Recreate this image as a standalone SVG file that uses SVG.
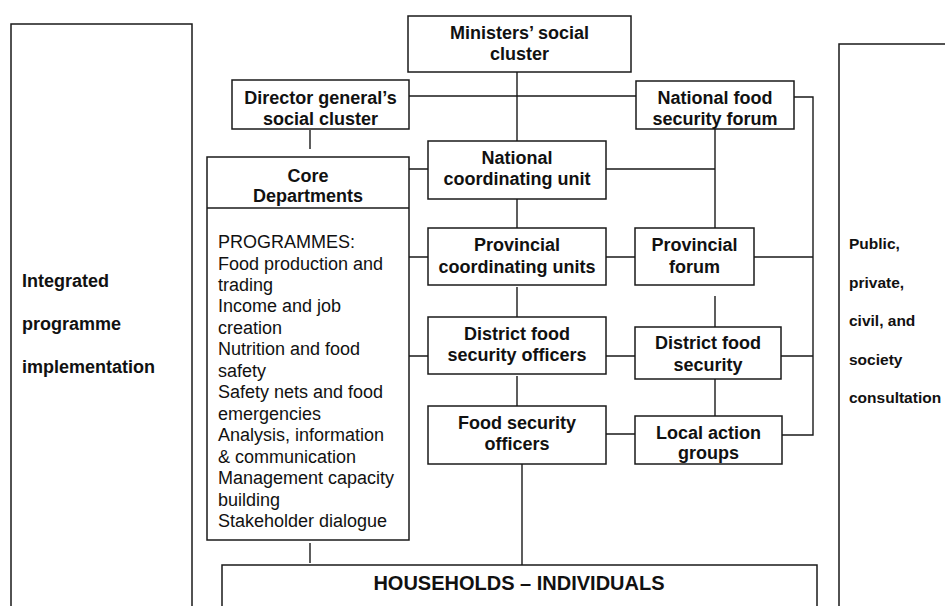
<svg xmlns="http://www.w3.org/2000/svg" width="945" height="606" viewBox="0 0 945 606">
<style>
.box{fill:#fff;stroke:#1a1a1a;stroke-width:1.5}
.ln{stroke:#1a1a1a;stroke-width:1.4;fill:none}
.b{font-family:"Liberation Sans",Arial,sans-serif;font-weight:bold;font-size:18px;fill:#111;text-anchor:middle}
.side{font-family:"Liberation Sans",Arial,sans-serif;font-weight:bold;font-size:18px;fill:#111}
.sideR{font-family:"Liberation Sans",Arial,sans-serif;font-weight:bold;font-size:15.5px;fill:#111}
.p{font-family:"Liberation Sans",Arial,sans-serif;font-size:18px;fill:#111}
</style>
<rect width="945" height="606" fill="#fff"/>
<g id="connectors">
<path class="ln" d="M517 72V141M409 96H636M794 97H813V435H782M310 130V149M409 169H428M606 169H715M715 129V228M517 199V228M409 257H428M606 257H635M754 257H813M517 287V317M715 296V327M409 356H428M606 356H635M781 356H813M517 376V406M715 379V416M606 434H635M522 464V565M310 543V563"/>
</g>
<g id="integrated-programme-implementation">
<rect class="box" x="11" y="24" width="181" height="620"/>
<text class="side" x="22" y="287">Integrated</text>
<text class="side" x="22" y="330">programme</text>
<text class="side" x="22" y="373">implementation</text>
</g>
<g id="consultation">
<rect class="box" x="839" y="44" width="160" height="620"/>
<text class="sideR" x="849" y="249">Public,</text>
<text class="sideR" x="849" y="287.5">private,</text>
<text class="sideR" x="849" y="326">civil, and</text>
<text class="sideR" x="849" y="364.5">society</text>
<text class="sideR" x="849" y="403">consultation</text>
</g>
<g id="ministers">
<rect class="box" x="408" y="16" width="223" height="56"/>
<text class="b" x="519.5" y="39">Ministers’ social</text>
<text class="b" x="519.5" y="60">cluster</text>
</g>
<g id="director-general">
<rect class="box" x="232" y="80" width="177" height="49"/>
<text class="b" x="320.5" y="104">Director general’s</text>
<text class="b" x="320.5" y="125">social cluster</text>
</g>
<g id="national-forum">
<rect class="box" x="636" y="81" width="158" height="48"/>
<text class="b" x="715" y="104">National food</text>
<text class="b" x="715" y="125">security forum</text>
</g>
<g id="core-departments">
<rect class="box" x="207" y="157" width="202" height="383"/>
<line class="ln" x1="207" y1="208" x2="409" y2="208"/>
<text class="b" x="308" y="182">Core</text>
<text class="b" x="308" y="202">Departments</text>
<text class="p" x="218" y="248">PROGRAMMES:</text>
<text class="p" x="218" y="269.5">Food production and</text>
<text class="p" x="218" y="291">trading</text>
<text class="p" x="218" y="312.4">Income and job</text>
<text class="p" x="218" y="333.8">creation</text>
<text class="p" x="218" y="355.3">Nutrition and food</text>
<text class="p" x="218" y="376.8">safety</text>
<text class="p" x="218" y="398.2">Safety nets and food</text>
<text class="p" x="218" y="419.7">emergencies</text>
<text class="p" x="218" y="441.1">Analysis, information</text>
<text class="p" x="218" y="462.6">&amp; communication</text>
<text class="p" x="218" y="484">Management capacity</text>
<text class="p" x="218" y="505.5">building</text>
<text class="p" x="218" y="527">Stakeholder dialogue</text>
</g>
<g id="national-coordinating-unit">
<rect class="box" x="428" y="141" width="178" height="58"/>
<text class="b" x="517" y="164">National</text>
<text class="b" x="517" y="185">coordinating unit</text>
</g>
<g id="provincial-coordinating-units">
<rect class="box" x="428" y="228" width="178" height="57"/>
<text class="b" x="517" y="251">Provincial</text>
<text class="b" x="517" y="273">coordinating units</text>
</g>
<g id="provincial-forum">
<rect class="box" x="635" y="228" width="119" height="57"/>
<text class="b" x="694.5" y="251">Provincial</text>
<text class="b" x="694.5" y="273">forum</text>
</g>
<g id="district-officers">
<rect class="box" x="428" y="317" width="178" height="57"/>
<text class="b" x="517" y="339.5">District food</text>
<text class="b" x="517" y="361">security officers</text>
</g>
<g id="district-food-security">
<rect class="box" x="635" y="327" width="146" height="52"/>
<text class="b" x="708" y="349">District food</text>
<text class="b" x="708" y="370.5">security</text>
</g>
<g id="food-security-officers">
<rect class="box" x="428" y="406" width="178" height="58"/>
<text class="b" x="517" y="429">Food security</text>
<text class="b" x="517" y="450">officers</text>
</g>
<g id="local-action-groups">
<rect class="box" x="635" y="416" width="147" height="48"/>
<text class="b" x="708.5" y="438.5">Local action</text>
<text class="b" x="708.5" y="458.5">groups</text>
</g>
<g id="households">
<rect class="box" x="222" y="565" width="595" height="80"/>
<text class="b" x="519" y="590" style="font-size:20px">HOUSEHOLDS – INDIVIDUALS</text>
</g>
</svg>
